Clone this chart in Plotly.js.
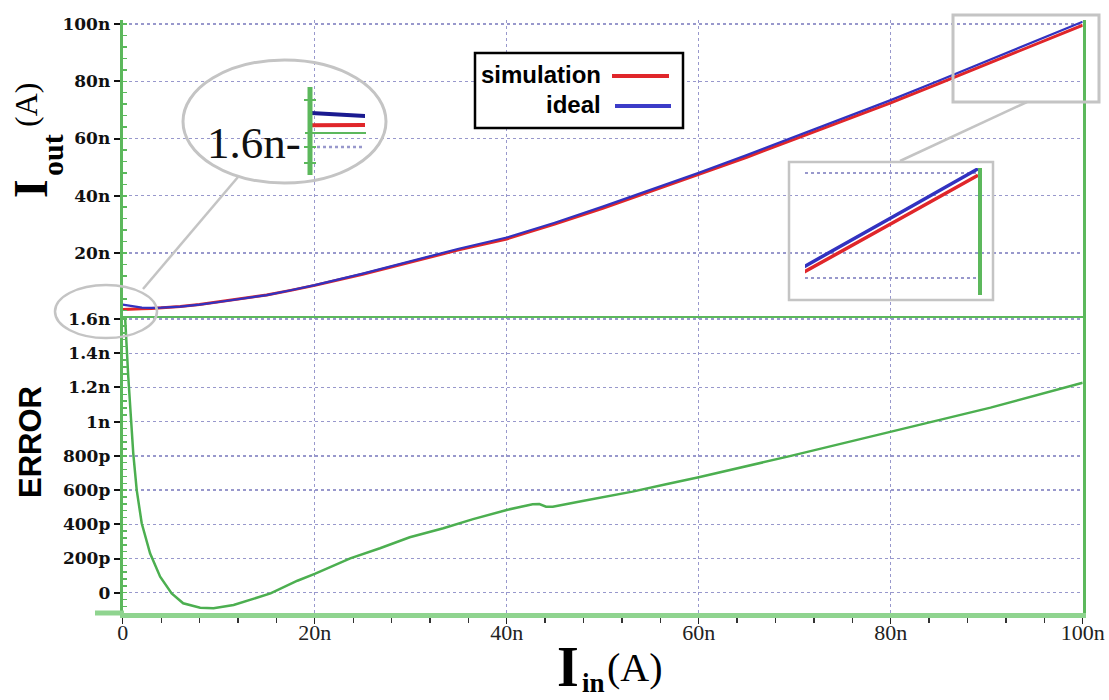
<!DOCTYPE html>
<html><head><meta charset="utf-8">
<script src="https://cdn.plot.ly/plotly-3.0.1.min.js"></script>
<style>body{margin:0;background:#fff}#chart{width:1109px;height:700px}</style>
</head><body><div id="chart"></div>
<script>
// ---- data (currents in nA) ----
const iinTop   = [0, 0.5, 1, 2, 3, 4, 6, 8, 10, 12.5, 15, 17.5, 20, 25, 30, 35, 40, 45, 50, 55, 60, 65, 70, 75, 80, 85, 90, 95, 100];
const idealOut = [1.95, 1.65, 1.3, 0.95, 0.85, 0.9, 1.3, 1.95, 2.9, 4.0, 5.3, 7.0, 8.8, 12.8, 17.1, 21.5, 25.4, 30.6, 36.2, 42.1, 48.0, 54.2, 60.6, 67.0, 73.4, 80.2, 87.0, 93.9, 100.8];
const simOut   = [0.31, 0.32, 0.40, 0.55, 0.64, 0.82, 1.35, 2.04, 2.99, 4.06, 5.31, 6.95, 8.69, 12.57, 16.78, 21.10, 24.92, 30.10, 35.64, 41.49, 47.33, 53.46, 59.80, 66.13, 72.46, 79.20, 85.92, 92.75, 99.57];
const iinErr   = [0, 0.25, 0.58, 0.83, 1.1, 1.46, 1.98, 2.85, 3.9, 5.1, 6.3, 8.07, 9.46, 11.55, 13.3, 15.4, 18.2, 20, 23.7, 26.8, 29.9, 33.4, 36.5, 40, 42.7, 43.4, 44.1, 44.8, 47.9, 53.1, 56.6, 60, 69.6, 80, 84.9, 90.4, 100];
const errorVal = [1.64, 1.61, 1.263, 1.03, 0.815, 0.60, 0.406, 0.23, 0.094, -0.004, -0.062, -0.088, -0.091, -0.072, -0.043, -0.004, 0.07, 0.11, 0.201, 0.26, 0.324, 0.377, 0.43, 0.484, 0.517, 0.518, 0.503, 0.503, 0.536, 0.591, 0.634, 0.675, 0.80, 0.94, 1.004, 1.082, 1.228];
const xTickVals  = [0, 20, 40, 60, 80, 100];
const xTickText  = ['0', '20n', '40n', '60n', '80n', '100n'];
const topTickVals = [20, 40, 60, 80, 100];
const topTickText = ['20n', '40n', '60n', '80n', '100n'];
const errTickVals = [0, 0.2, 0.4, 0.6, 0.8, 1.0, 1.2, 1.4, 1.6];
const errTickText = ['0', '200p', '400p', '600p', '800p', '1n', '1.2n', '1.4n', '1.6n'];
const seriesNames = ['simulation', 'ideal'];

// ---- styling helpers ----
const W = 1109, H = 700;
const px = x => x / W, py = y => 1 - y / H;
const GREEN = '#5cb85c', LGREEN = '#8fd48f', GRID = '#9898cc', RED = '#e0262a', BLUE = '#3232c0', GRAY = '#c4c4c4';
const tickFontY = {family: 'DejaVu Serif', size: 17, color: '#111', weight: 'bold'};

const traces = [
  {x: iinErr, y: errorVal, xaxis: 'x', yaxis: 'y', mode: 'lines', line: {color: '#4caf50', width: 2.5}},
  {x: iinTop, y: simOut, xaxis: 'x2', yaxis: 'y2', mode: 'lines', name: seriesNames[0], line: {color: RED, width: 3}},
  {x: iinTop, y: idealOut, xaxis: 'x2', yaxis: 'y2', mode: 'lines', name: seriesNames[1], line: {color: BLUE, width: 2.2}},
  {x: iinTop, y: simOut, xaxis: 'x3', yaxis: 'y3', mode: 'lines', line: {color: RED, width: 3.5}},
  {x: iinTop, y: idealOut, xaxis: 'x3', yaxis: 'y3', mode: 'lines', line: {color: BLUE, width: 3.5}},
  {x: iinTop, y: simOut, xaxis: 'x4', yaxis: 'y4', mode: 'lines', line: {color: RED, width: 4}},
  {x: iinTop, y: idealOut, xaxis: 'x4', yaxis: 'y4', mode: 'lines', line: {color: '#1a1a90', width: 4}}
];

const xDom = [px(122.7), px(1082.7)];
const layout = {
  width: W, height: H, margin: {l: 0, r: 0, t: 0, b: 0},
  paper_bgcolor: '#fff', plot_bgcolor: 'rgba(0,0,0,0)', showlegend: false, hovermode: false,
  xaxis: {domain: xDom, anchor: 'y', range: [0, 100], tickmode: 'array', tickvals: xTickVals, ticktext: xTickText,
    ticks: 'outside', ticklen: 6, tickwidth: 1.5, tickcolor: '#222', ticklabelstandoff: -10,
    minor: {tickmode: 'linear', tick0: 0, dtick: 4, ticks: 'outside', ticklen: 5, tickwidth: 1.2, tickcolor: '#333', showgrid: false},
    showgrid: true, gridcolor: GRID, griddash: 'dot', gridwidth: 1.3,
    showline: true, linecolor: LGREEN, linewidth: 5, zeroline: false,
    tickfont: {family: 'Liberation Serif', size: 22, color: '#222'}},
  yaxis: {domain: [py(613), py(316)], anchor: 'x', range: [-0.1187, 1.618], tickmode: 'array', tickvals: errTickVals, ticktext: errTickText,
    ticks: 'outside', ticklen: 6, tickwidth: 2, tickcolor: '#111',
    minor: {tickmode: 'linear', tick0: 0, dtick: 0.04, ticks: 'inside', ticklen: 4, tickwidth: 1.5, tickcolor: GREEN, showgrid: false},
    showgrid: true, gridcolor: GRID, griddash: 'dot', gridwidth: 1.3,
    showline: true, linecolor: GREEN, linewidth: 3, mirror: true, zeroline: false, tickfont: tickFontY},
  xaxis2: {domain: xDom, anchor: 'y2', range: [0, 100], tickmode: 'array', tickvals: [20, 40, 60, 80], showticklabels: false, ticks: '',
    showgrid: true, gridcolor: GRID, griddash: 'dot', gridwidth: 1.3, showline: true, linecolor: GREEN, linewidth: 1.5, zeroline: false},
  yaxis2: {domain: [py(316), py(20)], anchor: 'x2', range: [-2.0, 101.4], tickmode: 'array', tickvals: topTickVals, ticktext: topTickText,
    ticks: 'outside', ticklen: 6, tickwidth: 2, tickcolor: '#111',
    minor: {tickmode: 'linear', tick0: 0, dtick: 4, ticks: 'inside', ticklen: 4, tickwidth: 1.5, tickcolor: GREEN, showgrid: false},
    showgrid: true, gridcolor: GRID, griddash: 'dot', gridwidth: 1.3,
    showline: true, linecolor: GREEN, linewidth: 3, mirror: true, zeroline: false, tickfont: tickFontY},
  xaxis3: {domain: [px(805), px(978)], anchor: 'y3', range: [86.5, 100], showgrid: false, showticklabels: false, ticks: '', zeroline: false, showline: false},
  yaxis3: {domain: [py(295), py(168)], anchor: 'x3', range: [76.76, 100.95], side: 'right', tickmode: 'array', tickvals: [80, 100],
    showticklabels: false, ticks: '', showgrid: true, gridcolor: GRID, griddash: 'dot', gridwidth: 2,
    showline: true, linecolor: GREEN, linewidth: 4, zeroline: false},
  xaxis4: {domain: [px(311), px(365)], anchor: 'y4', range: [0, 0.6], visible: false},
  yaxis4: {domain: [py(135), py(105)], anchor: 'x4', range: [-0.98, 3.02], visible: false},
  shapes: [
    {type: 'rect', xref: 'x3 domain', yref: 'y3 domain', x0: -0.0925, x1: 1.0867, y0: -0.039, y1: 1.047, fillcolor: '#fff', line: {width: 0}, layer: 'below'},
    {type: 'circle', xref: 'x4 domain', yref: 'y4 domain', x0: -2.37, x1: 1.389, y0: -1.6, y1: 2.5, fillcolor: '#fff', line: {width: 0}, layer: 'below'},
    {type: 'rect', xref: 'paper', yref: 'paper', x0: px(789), x1: px(993), y0: py(300), y1: py(162), line: {color: GRAY, width: 2.5}, layer: 'above'},
    {type: 'rect', xref: 'paper', yref: 'paper', x0: px(953), x1: px(1099), y0: py(102), y1: py(15), line: {color: GRAY, width: 3}, layer: 'above'},
    {type: 'line', xref: 'paper', yref: 'paper', x0: px(1027), y0: py(102), x1: px(900), y1: py(161), line: {color: GRAY, width: 2.5}, layer: 'above'},
    {type: 'circle', xref: 'paper', yref: 'paper', x0: px(183), x1: px(386), y0: py(183), y1: py(60), line: {color: GRAY, width: 3}, layer: 'above'},
    {type: 'circle', xref: 'paper', yref: 'paper', x0: px(55), x1: px(157), y0: py(338), y1: py(285), line: {color: GRAY, width: 2.5}, layer: 'above'},
    {type: 'line', xref: 'paper', yref: 'paper', x0: px(143), y0: py(289), x1: px(238), y1: py(177), line: {color: GRAY, width: 2.5}, layer: 'above'},
    {type: 'line', xref: 'paper', yref: 'paper', x0: px(310), y0: py(87), x1: px(310), y1: py(175), line: {color: GREEN, width: 5}, layer: 'above'},
    {type: 'line', xref: 'paper', yref: 'paper', x0: px(305), y0: py(133), x1: px(366), y1: py(133), line: {color: GREEN, width: 2}, layer: 'above'},
    {type: 'line', xref: 'paper', yref: 'paper', x0: px(304), y0: py(100), x1: px(316), y1: py(100), line: {color: GREEN, width: 2}, layer: 'above'},
    {type: 'line', xref: 'paper', yref: 'paper', x0: px(304), y0: py(147), x1: px(316), y1: py(147), line: {color: GREEN, width: 2}, layer: 'above'},
    {type: 'line', xref: 'paper', yref: 'paper', x0: px(304), y0: py(163), x1: px(316), y1: py(163), line: {color: GREEN, width: 2}, layer: 'above'},
    {type: 'line', xref: 'paper', yref: 'paper', x0: px(317), y0: py(147), x1: px(362), y1: py(147), line: {color: GRID, width: 2.5, dash: 'dot'}, layer: 'above'},
    {type: 'line', xref: 'paper', yref: 'paper', x0: px(95), y0: py(613), x1: px(124), y1: py(613), line: {color: LGREEN, width: 5}, layer: 'above'},
    {type: 'rect', xref: 'paper', yref: 'paper', x0: px(475), x1: px(683), y0: py(128), y1: py(53), fillcolor: '#fff', line: {color: '#000', width: 2.5}, layer: 'above'},
    {type: 'line', xref: 'paper', yref: 'paper', x0: px(612), y0: py(76), x1: px(669), y1: py(76), line: {color: RED, width: 4}, layer: 'above'},
    {type: 'line', xref: 'paper', yref: 'paper', x0: px(615), y0: py(106), x1: px(671), y1: py(106), line: {color: '#3c3cc8', width: 4}, layer: 'above'}
  ],
  annotations: [
    {xref: 'paper', yref: 'paper', x: px(603), y: py(75), xanchor: 'right', yanchor: 'middle', showarrow: false, text: '<b>' + seriesNames[0] + '</b>', font: {family: 'Liberation Sans', size: 24, color: '#000'}},
    {xref: 'paper', yref: 'paper', x: px(603), y: py(104), xanchor: 'right', yanchor: 'middle', showarrow: false, text: '<b>' + seriesNames[1] + '</b>', font: {family: 'Liberation Sans', size: 24, color: '#000'}},
    {xref: 'paper', yref: 'paper', x: px(303), y: py(143), xanchor: 'right', yanchor: 'middle', showarrow: false, text: '1.6n-', font: {family: 'Liberation Serif', size: 45, color: '#111'}},
    {xref: 'paper', yref: 'paper', x: px(30), y: py(189), xanchor: 'center', yanchor: 'middle', textangle: -90, showarrow: false, text: '<b>I</b>', font: {family: 'Liberation Serif', size: 48, color: '#000'}},
    {xref: 'paper', yref: 'paper', x: px(52), y: py(155), xanchor: 'center', yanchor: 'middle', textangle: -90, showarrow: false, text: '<b>out</b>', font: {family: 'Liberation Serif', size: 30, color: '#000'}},
    {xref: 'paper', yref: 'paper', x: px(26), y: py(105), xanchor: 'center', yanchor: 'middle', textangle: -90, showarrow: false, text: '(A)', font: {family: 'Liberation Serif', size: 32, color: '#000'}},
    {xref: 'paper', yref: 'paper', x: px(30), y: py(442), xanchor: 'center', yanchor: 'middle', textangle: -90, showarrow: false, text: '<b>ERROR</b>', font: {family: 'Liberation Sans', size: 31, color: '#000'}},
    {xref: 'paper', yref: 'paper', x: px(580), y: py(699), xanchor: 'right', yanchor: 'bottom', showarrow: false, borderpad: 0, text: '<b>I</b>', font: {family: 'Liberation Serif', size: 56, color: '#000'}},
    {xref: 'paper', yref: 'paper', x: px(581), y: py(699), xanchor: 'left', yanchor: 'bottom', showarrow: false, borderpad: 0, text: '<b>in</b>', font: {family: 'Liberation Serif', size: 27, color: '#000'}},
    {xref: 'paper', yref: 'paper', x: px(606), y: py(667), xanchor: 'left', yanchor: 'middle', showarrow: false, borderpad: 0, text: '(A)', font: {family: 'Liberation Serif', size: 40, color: '#000'}}
  ]
};
Plotly.newPlot('chart', traces, layout, {staticPlot: true, displayModeBar: false});
</script></body></html>
